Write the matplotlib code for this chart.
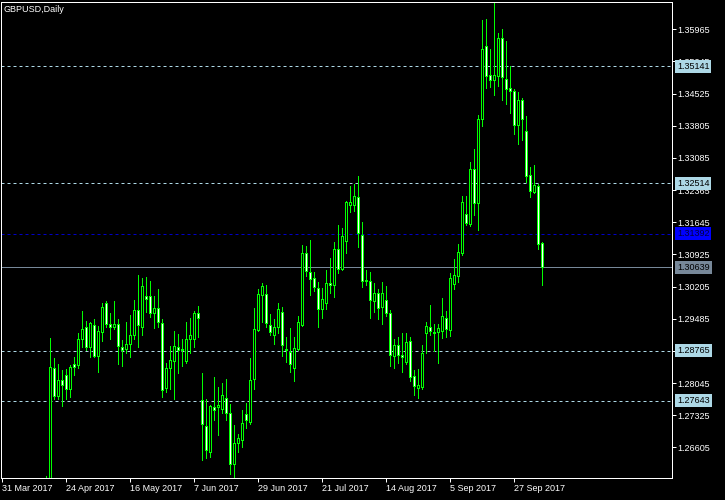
import numpy as np
import pandas as pd
import matplotlib
matplotlib.use("Agg")
import matplotlib.pyplot as plt

# ---------------- data ----------------
symbol_title = "GBPUSD,Daily"
chart_start = "2017-03-31"      # date of the left-most bar slot of the window
first_bar_date = "2017-04-17"   # first bar that reaches into the visible price range

opens = [1.2555, 1.2566, 1.2837, 1.2776, 1.2811, 1.2822, 1.2792, 1.2846, 1.2844, 1.2902,
         1.2931, 1.2884, 1.2934, 1.2864, 1.2918, 1.2983, 1.2936, 1.2929, 1.2936, 1.2884,
         1.2880, 1.2891, 1.2913, 1.2967, 1.2931, 1.2999, 1.2999, 1.2961, 1.2972, 1.2938,
         1.2793, 1.2837, 1.2854, 1.2886, 1.2880, 1.2854, 1.2902, 1.2904, 1.2961, 1.2766,
         1.2708, 1.2651, 1.2751, 1.2751, 1.2747, 1.2770, 1.2737, 1.2624, 1.2670, 1.2678,
         1.2735, 1.2717, 1.2813, 1.2923, 1.3001, 1.3004, 1.2934, 1.2913, 1.2931, 1.2963,
         1.2880, 1.2873, 1.2837, 1.2880, 1.2934, 1.3095, 1.3052, 1.3039, 1.3018, 1.2971,
         1.2984, 1.3028, 1.3024, 1.3104, 1.3060, 1.3123, 1.3204, 1.3204, 1.3221, 1.3135,
         1.3035, 1.3032, 1.2987, 1.3006, 1.2975, 1.2990, 1.2962, 1.2866, 1.2889, 1.2867,
         1.2852, 1.2898, 1.2821, 1.2794, 1.2796, 1.2917, 1.2930, 1.2919, 1.2919, 1.2921,
         1.2950, 1.2923, 1.3027, 1.3045, 1.3096, 1.3184, 1.3161, 1.3283, 1.3207, 1.3395,
         1.3558, 1.3494, 1.3484, 1.3493, 1.3577, 1.3485, 1.3464, 1.3459, 1.3383, 1.3439,
         1.3369, 1.3270, 1.3233, 1.3246, 1.3118]

highs = [1.2596, 1.2905, 1.2860, 1.2847, 1.2834, 1.2836, 1.2844, 1.2862, 1.2916, 1.2966,
         1.2943, 1.2941, 1.2947, 1.2932, 1.2984, 1.2988, 1.2961, 1.2988, 1.2947, 1.2900,
         1.2941, 1.2957, 1.2990, 1.3046, 1.3039, 1.3041, 1.3032, 1.2999, 1.3014, 1.2947,
         1.2849, 1.2887, 1.2921, 1.2914, 1.2903, 1.2941, 1.2950, 1.2965, 1.2977, 1.2826,
         1.2768, 1.2756, 1.2818, 1.2796, 1.2805, 1.2813, 1.2757, 1.2711, 1.2690, 1.2744,
         1.2760, 1.2860, 1.2972, 1.3015, 1.3028, 1.3024, 1.2959, 1.2947, 1.2984, 1.2975,
         1.2907, 1.2927, 1.2907, 1.2954, 1.3114, 1.3111, 1.3125, 1.3052, 1.3031, 1.3018,
         1.3058, 1.3084, 1.3120, 1.3158, 1.3152, 1.3211, 1.3246, 1.3250, 1.3268, 1.3165,
         1.3058, 1.3053, 1.3028, 1.3015, 1.3031, 1.3022, 1.2969, 1.2902, 1.2907, 1.2916,
         1.2916, 1.2907, 1.2833, 1.2835, 1.2890, 1.2942, 1.2979, 1.2936, 1.2937, 1.2995,
         1.2966, 1.3050, 1.3082, 1.3115, 1.3223, 1.3223, 1.3299, 1.3329, 1.3405, 1.3617,
         1.3620, 1.3552, 1.3656, 1.3588, 1.3597, 1.3570, 1.3514, 1.3462, 1.3455, 1.3442,
         1.3402, 1.3288, 1.3292, 1.3251, 1.3120]

lows = [1.2540, 1.2548, 1.2768, 1.2768, 1.2754, 1.2769, 1.2774, 1.2822, 1.2837, 1.2885,
        1.2878, 1.2862, 1.2862, 1.2830, 1.2899, 1.2929, 1.2902, 1.2925, 1.2848, 1.2843,
        1.2871, 1.2863, 1.2904, 1.2885, 1.2911, 1.2963, 1.2952, 1.2927, 1.2931, 1.2774,
        1.2785, 1.2792, 1.2768, 1.2828, 1.2843, 1.2850, 1.2871, 1.2886, 1.2907, 1.2632,
        1.2637, 1.2639, 1.2722, 1.2688, 1.2737, 1.2722, 1.2601, 1.2589, 1.2651, 1.2662,
        1.2704, 1.2713, 1.2792, 1.2921, 1.2941, 1.2929, 1.2911, 1.2892, 1.2916, 1.2866,
        1.2852, 1.2830, 1.2810, 1.2878, 1.2933, 1.3044, 1.3002, 1.3011, 1.2931, 1.2951,
        1.2971, 1.3006, 1.2997, 1.3050, 1.3058, 1.3096, 1.3188, 1.3190, 1.3110, 1.3020,
        1.3024, 1.2951, 1.2964, 1.2948, 1.2937, 1.2955, 1.2843, 1.2839, 1.2850, 1.2830,
        1.2848, 1.2810, 1.2778, 1.2772, 1.2792, 1.2872, 1.2911, 1.2877, 1.2850, 1.2905,
        1.2907, 1.2909, 1.3016, 1.3031, 1.3091, 1.3158, 1.3157, 1.3181, 1.3147, 1.3381,
        1.3464, 1.3468, 1.3449, 1.3470, 1.3439, 1.3430, 1.3408, 1.3363, 1.3340, 1.3349,
        1.3255, 1.3222, 1.3231, 1.3105, 1.3024]

closes = [1.2565, 1.2840, 1.2776, 1.2811, 1.2799, 1.2792, 1.2840, 1.2840, 1.2902, 1.2925,
          1.2884, 1.2938, 1.2864, 1.2920, 1.2974, 1.2936, 1.2931, 1.2936, 1.2887, 1.2878,
          1.2891, 1.2913, 1.2967, 1.2934, 1.3021, 1.2992, 1.2961, 1.2972, 1.2940, 1.2788,
          1.2837, 1.2856, 1.2887, 1.2878, 1.2878, 1.2902, 1.2911, 1.2961, 1.2949, 1.2712,
          1.2655, 1.2754, 1.2745, 1.2755, 1.2777, 1.2737, 1.2624, 1.2670, 1.2681, 1.2715,
          1.2721, 1.2811, 1.2925, 1.3004, 1.3021, 1.2938, 1.2918, 1.2931, 1.2970, 1.2889,
          1.2878, 1.2846, 1.2882, 1.2940, 1.3095, 1.3056, 1.3038, 1.3020, 1.2971, 1.2992,
          1.3028, 1.3024, 1.3104, 1.3060, 1.3133, 1.3210, 1.3210, 1.3223, 1.3140, 1.3033,
          1.3033, 1.2991, 1.3006, 1.2973, 1.3006, 1.2962, 1.2868, 1.2889, 1.2868, 1.2863,
          1.2896, 1.2819, 1.2798, 1.2799, 1.2871, 1.2932, 1.2922, 1.2916, 1.2927, 1.2954,
          1.2925, 1.3040, 1.3046, 1.3097, 1.3210, 1.3163, 1.3283, 1.3207, 1.3395, 1.3552,
          1.3493, 1.3484, 1.3494, 1.3577, 1.3490, 1.3462, 1.3458, 1.3383, 1.3438, 1.3396,
          1.3269, 1.3235, 1.3247, 1.3116, 1.30639]

date_tick_dates = ["2017-03-31", "2017-04-24", "2017-05-16", "2017-06-07", "2017-06-29",
                   "2017-07-21", "2017-08-14", "2017-09-05", "2017-09-27"]
date_tick_labels = ["31 Mar 2017", "24 Apr 2017", "16 May 2017", "7 Jun 2017", "29 Jun 2017",
                    "21 Jul 2017", "14 Aug 2017", "5 Sep 2017", "27 Sep 2017"]

price_ticks = [1.26605, 1.27325, 1.28045, 1.28765, 1.29485, 1.30205, 1.30925,
               1.31645, 1.32365, 1.33085, 1.33805, 1.34525, 1.35245, 1.35965]
price_min, price_max = 1.25918, 1.36576
slots_visible = 167.75   # number of bar slots across the chart window

light_levels = [1.35141, 1.32514, 1.28765, 1.27643]
blue_level = 1.31392
bid_level = 1.30639

# ---------------- style ----------------
W, H = 725, 500
FONT = "Liberation Sans"
FS = 6.5
GREEN = "#00ff00"
LIGHT = "#add8e6"
BLUE = "#0000ff"
GRAY = "#778899"
PX = 72.0 / 100.0   # one pixel in points

fig = plt.figure(figsize=(W / 100, H / 100), dpi=100, facecolor="black")
ax = fig.add_axes([1 / W, 22 / H, 671 / W, 476 / H])
ax.set_facecolor("black")
ax.set_xlim(-0.25, -0.25 + slots_visible)
ax.set_ylim(price_min, price_max)

o = np.array(opens); h = np.array(highs); l = np.array(lows); c = np.array(closes)
dates = pd.bdate_range(first_bar_date, periods=len(o))
start = np.datetime64(chart_start)
xpos = np.busday_count(start, dates.values.astype("datetime64[D]"))

px_y = (price_max - price_min) / 476.0

# level lines (behind the candles)
for lv in light_levels:
    ax.axhline(lv, color=LIGHT, lw=1 * PX, ls=(0, (3, 3)), zorder=1)
ax.axhline(blue_level, color="#0000c8", lw=1 * PX, ls=(0, (3, 3)), zorder=1)
ax.axhline(bid_level, color=GRAY, lw=1 * PX, zorder=1)

# candles
ax.vlines(xpos, l, h, color=GREEN, lw=1 * PX, antialiased=False, zorder=2)
bull = c > o
bottoms = np.minimum(o, c)
heights = np.maximum(np.abs(c - o), px_y * 0.6)
fills = np.where(bull, "black", "white")
ax.bar(xpos, heights, bottom=bottoms, width=0.5, color=list(fills),
       edgecolor=GREEN, linewidth=1 * PX, antialiased=False, zorder=3)

# frame
for sp in ax.spines.values():
    sp.set_color("white")
    sp.set_linewidth(1 * PX)

# y axis on the right
ax.yaxis.tick_right()
ax.set_yticks(price_ticks)
ax.set_yticklabels([f"{v:.5f}" for v in price_ticks])
ax.tick_params(axis="y", which="both", direction="out", length=4 * PX, width=1 * PX,
               colors="white", labelsize=FS, pad=1 * PX, left=False)

# x axis
tick_x = np.busday_count(start, np.array(date_tick_dates, dtype="datetime64[D]"))
ax.set_xticks(tick_x)
ax.set_xticklabels(date_tick_labels)
ax.tick_params(axis="x", direction="out", length=4 * PX, width=1 * PX,
               colors="white", labelsize=FS, pad=2 * PX)
for t in ax.get_xticklabels():
    t.set_ha("left")
    t.set_fontfamily(FONT)
for t in ax.get_yticklabels():
    t.set_fontfamily(FONT)

# price labels on the right scale
def price_label(val, bg, fg="black"):
    ax.annotate(f"{val:.5f}", xy=(1, val), xycoords=("axes fraction", "data"),
                xytext=(5 * PX, 0), textcoords="offset points", ha="left", va="center",
                fontsize=FS, family=FONT, color=fg, annotation_clip=False, zorder=10,
                bbox=dict(boxstyle="square,pad=0.22", fc=bg, ec="none"))

for lv in light_levels:
    price_label(lv, LIGHT)
price_label(blue_level, BLUE, "#000040")
price_label(bid_level, GRAY)

fig.text(4 / W, 1 - 10 / H, symbol_title, color="white", fontsize=FS, family=FONT,
         ha="left", va="center")

fig.savefig("out.png", dpi=100, facecolor="black")
